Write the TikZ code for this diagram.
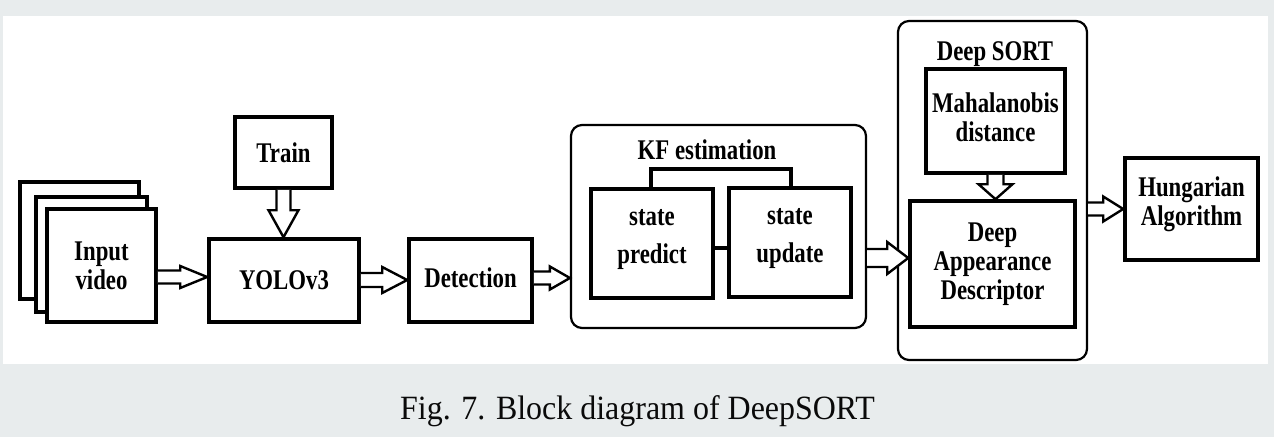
\documentclass[tikz,border=0pt]{standalone}
\usepackage{fontspec}
\setmainfont{Liberation Serif}
\newfontfamily\boxfont[FakeStretch=0.80]{Liberation Serif}
\newfontfamily\capfont[FakeStretch=0.94]{Liberation Serif}
\usetikzlibrary{calc}
\definecolor{bggray}{RGB}{232,236,237}
\definecolor{capcol}{RGB}{10,10,10}
\tikzset{
  box/.style={draw=black, fill=white, line width=3.6pt, inner sep=0pt, align=center,
    font=\boxfont\bfseries\fontsize{28.5}{29}\selectfont},
  group/.style={draw=black, fill=white, line width=2.2pt, rounded corners=11pt, inner sep=0pt},
  lbl/.style={font=\boxfont\bfseries\fontsize{28.5}{29}\selectfont, anchor=base, inner sep=0pt},
  hollow/.style={draw=black, fill=white, line width=2.4pt, line join=miter},
  link/.style={draw=black, line width=3.6pt}
}
% horizontal hollow arrow: from, to, shaft half, head half, head length
\newcommand\harr[5]{%
  \draw[hollow] let \p1=(#1), \p2=(#2) in
    (\x1,\y1+#3) -- (\x2-#5,\y1+#3) -- (\x2-#5,\y1+#4) -- (\x2,\y1)
    -- (\x2-#5,\y1-#4) -- (\x2-#5,\y1-#3) -- (\x1,\y1-#3);}
% vertical (downward) hollow arrow
\newcommand\varr[5]{%
  \draw[hollow] let \p1=(#1), \p2=(#2) in
    (\x1-#3,\y1) -- (\x1-#3,\y2+#5) -- (\x1-#4,\y2+#5) -- (\x1,\y2)
    -- (\x1+#4,\y2+#5) -- (\x1+#3,\y2+#5) -- (\x1+#3,\y1);}
\begin{document}
\begin{tikzpicture}[x=1pt,y=-1pt]
\useasboundingbox (0,0) rectangle (1274,437);
\fill[bggray] (0,0) rectangle (1274,437);
\fill[white] (3,16) rectangle (1268,364);

% groups
\node[group, minimum width=295pt, minimum height=203pt] (kf) at (718.5,226.5) {};
\node[lbl] (kflbl) at (707,159) {KF estimation};
\node[group, minimum width=189pt, minimum height=339pt] (ds) at (992.5,190.5) {};
\node[lbl] (dslbl) at (995,60) {Deep SORT};

% input stack
\node[box, minimum width=119pt, minimum height=117pt] (inback) at (79.5,240.5) {};
\node[box, minimum width=111pt, minimum height=115pt] (inmid) at (91.5,254.5) {};
\node[box, minimum width=109pt, minimum height=113pt] (in) at (101.5,265.5) {Input\\video};

\node[box, minimum width=97pt, minimum height=71pt] (train) at (283.5,152.5) {Train};
\node[box, minimum width=150pt, minimum height=83pt] (yolo) at (284,280.5) {YOLOv3};
\node[box, minimum width=123pt, minimum height=83pt] (det) at (470.5,280.5) {Detection\\[-23pt]\mbox{}};

\node[box, minimum width=122pt, minimum height=109pt] (sp) at (652,243.5) {state\\[9pt]predict\\[-14pt]\mbox{}};
\node[box, minimum width=122pt, minimum height=109pt] (su) at (790,242.5) {state\\[9pt]update\\[-15pt]\mbox{}};

\node[box, minimum width=139pt, minimum height=104pt] (maha) at (995.5,121) {Mahalanobis\\distance\\[-22pt]\mbox{}};
\node[box, minimum width=165pt, minimum height=126pt] (dad) at (992.5,264) {Deep\\Appearance\\Descriptor};
\node[box, minimum width=133pt, minimum height=102pt] (hung) at (1191.5,209) {Hungarian\\Algorithm\\[-14pt]\mbox{}};

% KF links
\draw[link] (sp.north -| 651,0) -- (651,169) -- (791,169) -- (su.north -| 791,0);
\draw[link] (sp.east |- 0,248) -- (su.west |- 0,248);

% arrows
\harr{in.east |- 0,277}{yolo.west |- 0,277}{6.5pt}{11pt}{27pt}
\harr{yolo.east |- 0,280}{det.west |- 0,280}{7pt}{13pt}{25pt}
\harr{det.east |- 0,278}{kf.west |- 0,278}{6.5pt}{11.5pt}{20pt}
\harr{kf.east |- 0,258}{dad.west |- 0,258}{9pt}{16pt}{21pt}
\harr{ds.east |- 0,209}{hung.west |- 0,209}{6.5pt}{12.5pt}{20pt}
\varr{train.south}{train.south |- yolo.north}{7pt}{15pt}{27pt}
\varr{maha.south}{maha.south |- dad.north}{8pt}{17pt}{15pt}

% caption
\node[font=\capfont\fontsize{34}{40}\selectfont, text=capcol, anchor=base, inner sep=0pt] (cap) at (637.5,419) {Fig. 7. Block diagram of DeepSORT};
\end{tikzpicture}
\end{document}
